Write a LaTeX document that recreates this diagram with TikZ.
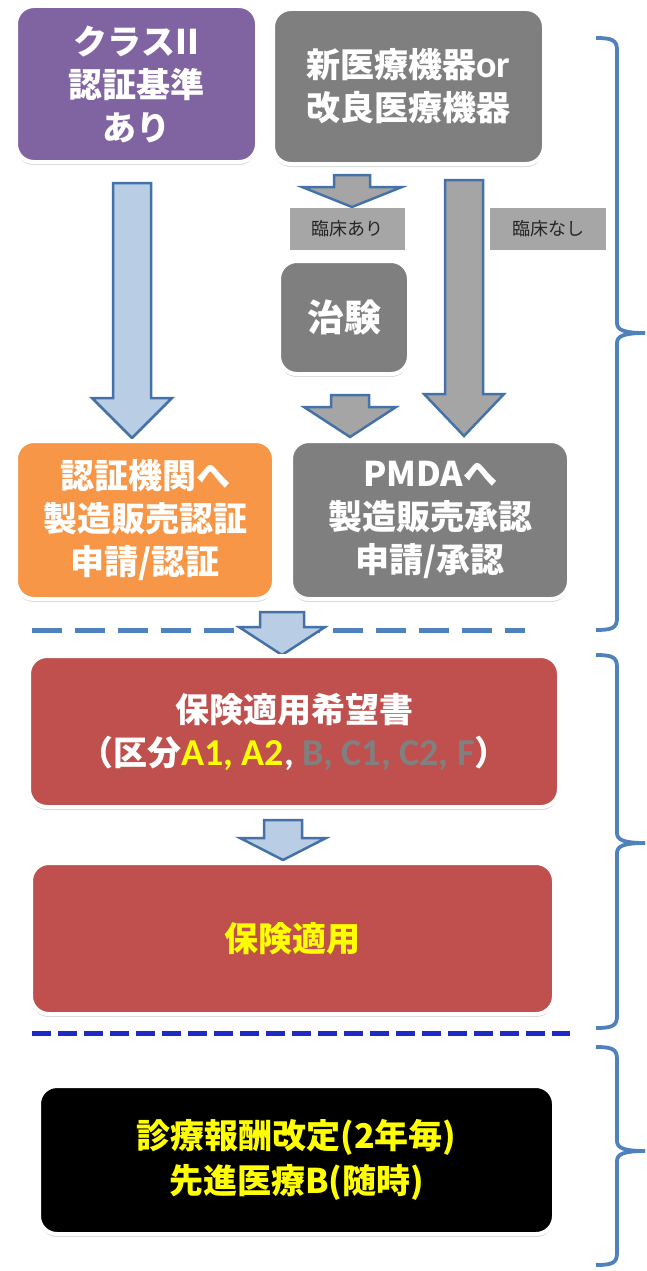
\documentclass[tikz,border=0pt]{standalone}
\usepackage{fontspec}
\setmainfont{Noto Sans CJK JP}
\newfontfamily\lat{Carlito}
\usetikzlibrary{shadows}
\definecolor{cpurple}{HTML}{8064A2}
\definecolor{cgray}{HTML}{7F7F7F}
\definecolor{clabel}{HTML}{A6A6A6}
\definecolor{corange}{HTML}{F79646}
\definecolor{cred}{HTML}{C0504D}
\definecolor{cblue}{HTML}{4F81BD}
\definecolor{carrowedge}{HTML}{4472A8}
\definecolor{clightblue}{HTML}{B9CDE5}
\definecolor{carrowgray}{HTML}{A5A5A5}
\definecolor{cdark}{HTML}{1E2AC8}
\definecolor{cyellow}{HTML}{FFFF00}
\definecolor{ctextgray}{HTML}{808080}
\newcommand\blkarrow[7]{%
  \draw[arrowline, fill=#7] (#1-#4,#2) -- (#1+#4,#2) -- (#1+#4,#3-#6) -- (#1+#5,#3-#6)
    -- (#1,#3) -- (#1-#5,#3-#6) -- (#1-#4,#3-#6) -- cycle;}
\newcommand\sidebrace[3]{%
  \draw[bracket] (596,#1) .. controls (612,#1) and (617,#1+2) .. (617,#1+12)
    -- (617,#2-10) .. controls (617,#2-3) and (624,#2) .. (645,#2);
  \draw[bracket] (645,#2) .. controls (624,#2) and (617,#2+3) .. (617,#2+10)
    -- (617,#3-12) .. controls (617,#3-2) and (612,#3) .. (596,#3);}
\tikzset{
  box/.style={rounded corners=18pt, draw=white, line width=4pt, text=white,
    font=\bfseries\fontsize{34}{43}\selectfont, align=center, inner sep=0pt,
    drop shadow={shadow xshift=0pt, shadow yshift=-3pt, opacity=0.3}},
  lbl/.style={fill=clabel, inner sep=0pt, text=black!85,
    font=\fontsize{18}{20}\selectfont, minimum height=42pt},
  arrowline/.style={draw=carrowedge, line width=2.5pt, line join=miter},
  bracket/.style={draw=cblue, line width=3.8pt},
  dashA/.style={draw=cblue, line width=5pt, dash pattern=on 30pt off 13pt},
  dashB/.style={draw=cdark, line width=5pt, dash pattern=on 19pt off 7pt},
}
\begin{document}
\begin{tikzpicture}[x=1pt,y=-1pt]
\useasboundingbox (0,0) rectangle (646,1271);
% dashed separators
\draw[dashA] (32,630) -- (525,630);
\draw[dashB] (32,1033) -- (570,1033);
% block arrows
\blkarrow{132}{183}{438}{19}{40}{40}{clightblue}
\blkarrow{352}{175}{207}{18}{50}{20}{carrowgray}
\blkarrow{464}{180}{436}{19}{40}{42}{carrowgray}
\blkarrow{350}{395}{437}{19}{46}{30}{carrowgray}
\blkarrow{282}{612}{655}{22}{43}{28}{clightblue}
\blkarrow{283}{820}{860}{19}{43}{22}{clightblue}
% boxes
\node[box, fill=cpurple, minimum width=241pt, minimum height=156pt] (cls) at (136.5,84)
  {クラスII\\認証基準\\あり};
\node[box, fill=cgray, minimum width=271pt, minimum height=155pt] (new) at (408.5,86.5)
  {新医療機器{\lat\bfseries\fontsize{38}{43}\selectfont or}\\改良医療機器};
\node[lbl, minimum width=115pt] (rinA) at (347.5,229) {臨床あり};
\node[lbl, minimum width=116pt] (rinN) at (548,229) {臨床なし};
\node[box, fill=cgray, minimum width=130pt, minimum height=113pt,
  font=\bfseries\fontsize{37}{43}\selectfont] (chi) at (344,317.5) {治験};
\node[box, fill=corange, minimum width=258pt, minimum height=158pt] (cert) at (145,520)
  {認証機関へ\\製造販売認証\\申請/認証};
\node[box, fill=cgray, minimum width=278pt, minimum height=158pt] (pmda) at (430,520)
  {PMDAへ\\製造販売承認\\申請/承認};
\node[box, fill=cred, minimum width=530pt, minimum height=151pt] (req) at (294,731.5)
  {保険適用希望書\\（区分{\lat\bfseries\fontsize{38}{43}\selectfont\color{cyellow}A1, A2}{\lat\bfseries\fontsize{38}{43}\selectfont, \color{ctextgray}B, C1, C2, F}）};
\node[box, fill=cred, text=cyellow, minimum width=523pt, minimum height=151pt] (ins) at (292.5,938.5)
  {保険適用};
\node[box, fill=black, text=cyellow, minimum width=515pt, minimum height=148pt,
  font=\bfseries\fontsize{34}{45}\selectfont] (fee) at (296.5,1160)
  {診療報酬改定(2年毎)\\先進医療B(随時)};
% braces
\sidebrace{38}{333}{630}
\sidebrace{655}{843}{1028}
\sidebrace{1047}{1151}{1265}
\end{tikzpicture}
\end{document}
